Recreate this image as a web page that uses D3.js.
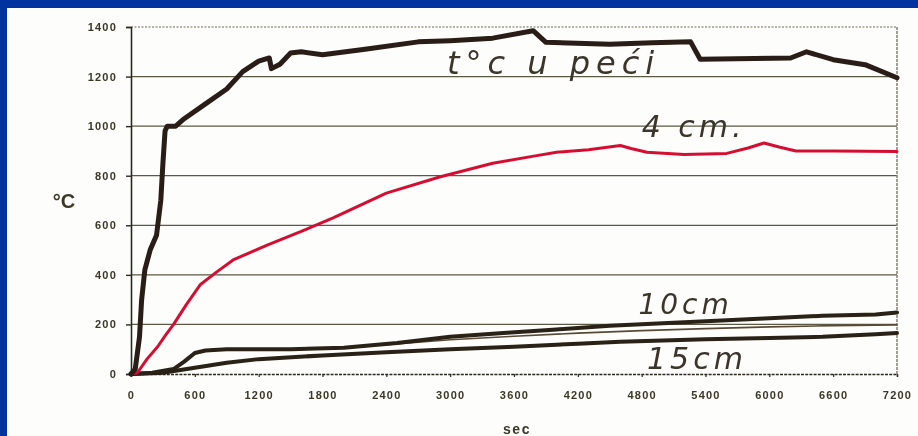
<!DOCTYPE html>
<html>
<head>
<meta charset="utf-8">
<script src="https://cdn.jsdelivr.net/npm/d3@7/dist/d3.min.js"></script>
<style>
  html, body { margin: 0; padding: 0; background: #0033a0; }
  svg { display: block; }
</style>
</head>
<body>
<svg id="chart" width="918" height="436"></svg>
<script>
// Temperature (°C) over time (sec): furnace and depths inside the specimen
const furnaceTemp = [
  [0,0],[40,20],[80,150],[100,300],[130,420],[180,500],[240,560],[280,700],[300,850],
  [320,980],[340,1000],[420,1000],[500,1030],[700,1090],[900,1150],[1050,1220],
  [1200,1262],[1300,1275],[1320,1232],[1400,1250],[1500,1295],[1600,1300],[1800,1288],
  [2200,1310],[2700,1340],[3000,1345],[3400,1355],[3780,1385],[3900,1338],[4500,1330],
  [4900,1336],[5260,1340],[5350,1270],[6200,1275],[6350,1300],[6600,1268],[6900,1248],[7200,1195]
];
const depth4cm = [
  [0,0],[60,5],[150,60],[250,110],[330,160],[400,200],[520,280],[650,360],[800,410],
  [960,460],[1280,520],[1600,575],[1900,630],[2400,730],[2900,795],[3400,850],[3800,880],
  [4000,895],[4300,905],[4600,922],[4700,910],[4850,895],[5200,886],[5600,890],[5800,912],
  [5950,932],[6100,915],[6250,900],[6600,900],[7200,898]
];
const depth10cm = [
  [0,0],[200,5],[400,20],[500,50],[600,85],[700,95],[900,100],[1500,100],[2000,106],
  [2500,125],[3000,150],[3500,165],[4000,180],[4500,195],[5000,205],[5500,215],
  [6000,225],[6500,235],[7000,240],[7200,248]
];
const depthMid = [
  [2400,118],[3000,138],[3600,152],[4200,165],[4800,175],[5400,183],[6000,190],[6600,195],[7200,198]
];
const depth15cm = [
  [0,0],[300,5],[600,25],[900,45],[1200,60],[1800,75],[2400,88],[3000,100],[3600,110],
  [4200,122],[4600,130],[5400,140],[6000,145],[6500,150],[7000,160],[7200,165]
];
const xTicks = [0,600,1200,1800,2400,3000,3600,4200,4800,5400,6000,6600,7200];
const yTicks = [0,200,400,600,800,1000,1200,1400];
const curveLabels = [
  { text: "t°c u peći", t: 2970, v: 1212, size: 32, spacing: 6 },
  { text: "4 cm.", t: 4800, v: 958, size: 30, spacing: 4 },
  { text: "10cm", t: 4770, v: 242, size: 28, spacing: 4 },
  { text: "15cm", t: 4850, v: 22, size: 30, spacing: 4 }
];

const svg = d3.select("#chart");

// white sheet inside the blue frame
svg.append("rect").attr("x", 7).attr("y", 8).attr("width", 911).attr("height", 428).attr("fill", "#fdfdfb");

const x = d3.scaleLinear().domain([0, 7200]).range([131, 897]);
const y = d3.scaleLinear().domain([0, 1400]).range([374, 27]);

const defs = svg.append("defs");
defs.append("filter").attr("id", "soft")
  .append("feGaussianBlur").attr("stdDeviation", 0.6);

const plot = svg.append("g").attr("filter", "url(#soft)");

// horizontal grid lines
plot.append("g").selectAll("line")
  .data(yTicks.filter(d => d > 0 && d < 1400))
  .join("line")
  .attr("x1", x(0)).attr("x2", x(7200))
  .attr("y1", d => y(d)).attr("y2", d => y(d))
  .attr("stroke", "#5c5a45").attr("stroke-width", 1.2);

// top border (dotted)
plot.append("line")
  .attr("x1", x(0)).attr("x2", x(7200)).attr("y1", y(1400)).attr("y2", y(1400))
  .attr("stroke", "#6d6a50").attr("stroke-width", 1.2).attr("stroke-dasharray", "2,1.5");

// right border
plot.append("line")
  .attr("x1", x(7200)).attr("x2", x(7200)).attr("y1", y(1400)).attr("y2", y(0))
  .attr("stroke", "#7a7868").attr("stroke-width", 1.4).attr("stroke-dasharray", "3,1");

// y axis
const yAxis = d3.axisLeft(y).tickValues(yTicks).tickSize(5).tickPadding(9).tickFormat(d3.format("d"));
const gy = plot.append("g").attr("transform", `translate(${x(0)},0)`).call(yAxis);
gy.select(".domain").attr("stroke", "#2b2a22").attr("stroke-width", 1.6);
gy.selectAll(".tick line").attr("stroke", "#2b2a22").attr("stroke-width", 1.4);
gy.selectAll(".tick text")
  .attr("fill", "#3a3828").attr("font-family", "Arial, 'Liberation Sans', sans-serif")
  .attr("font-size", 11).attr("font-weight", "bold").attr("letter-spacing", 1.2);

// x axis
const xAxis = d3.axisBottom(x).tickValues(xTicks).tickSize(3).tickPadding(14).tickFormat(d3.format("d"));
const gx = plot.append("g").attr("transform", `translate(0,${y(0)})`).call(xAxis);
gx.select(".domain").attr("stroke", "#2b2a22").attr("stroke-width", 1.5).attr("stroke-dasharray", "3,1.2");
gx.selectAll(".tick line").attr("stroke", "#2b2a22").attr("stroke-width", 1.2);
gx.selectAll(".tick text")
  .attr("fill", "#3a3828").attr("font-family", "Arial, 'Liberation Sans', sans-serif")
  .attr("font-size", 11).attr("font-weight", "bold").attr("letter-spacing", 1.2);

// curves
const line = d3.line().x(d => x(d[0])).y(d => y(d[1])).curve(d3.curveLinear);
const series = [
  { data: depth15cm, color: "#2a2016", width: 4 },
  { data: depthMid, color: "#5a4a36", width: 1.6 },
  { data: depth10cm, color: "#2a2016", width: 4 },
  { data: depth4cm, color: "#d41030", width: 3 },
  { data: furnaceTemp, color: "#2a1d14", width: 5 }
];
plot.append("g").selectAll("path")
  .data(series)
  .join("path")
  .attr("d", d => line(d.data))
  .attr("fill", "none")
  .attr("stroke", d => d.color)
  .attr("stroke-width", d => d.width)
  .attr("stroke-linejoin", "round")
  .attr("stroke-linecap", "round");

// handwritten curve names
plot.append("g").selectAll("text")
  .data(curveLabels)
  .join("text")
  .attr("x", d => x(d.t)).attr("y", d => y(d.v))
  .attr("font-family", "'DejaVu Sans', 'Liberation Sans', sans-serif")
  .attr("font-style", "italic")
  .attr("font-weight", 200)
  .attr("font-size", d => d.size)
  .attr("letter-spacing", d => d.spacing)
  .attr("fill", "#3a342c")
  .text(d => d.text);

// axis titles
plot.append("text")
  .attr("x", 64).attr("y", 208).attr("text-anchor", "middle")
  .attr("font-family", "Arial, 'Liberation Sans', sans-serif").attr("font-weight", "bold")
  .attr("font-size", 20).attr("fill", "#3a3828").text("°C");
plot.append("text")
  .attr("x", 517).attr("y", 434).attr("text-anchor", "middle")
  .attr("font-family", "Arial, 'Liberation Sans', sans-serif").attr("font-weight", "bold")
  .attr("font-size", 14).attr("letter-spacing", 1.5).attr("fill", "#3a3828").text("sec");
</script>
</body>
</html>
